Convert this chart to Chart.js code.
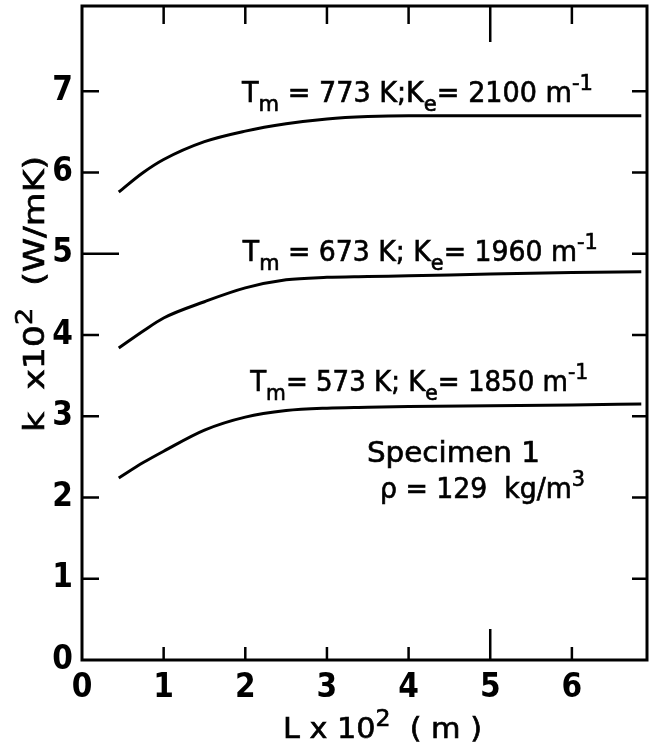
<!DOCTYPE html>
<html>
<head>
<meta charset="utf-8">
<script src="https://cdn.jsdelivr.net/npm/chart.js@4/dist/chart.umd.min.js"></script>
<style>
  html, body { margin: 0; padding: 0; background: #fff; }
  #wrap { width: 650px; height: 746px; }
</style>
</head>
<body>
<div id="wrap"><canvas id="c" width="650" height="746"></canvas></div>
<script>
// ---- data ----
const lengthL = [0.45, 0.75, 1.0, 1.5, 2.0, 2.5, 3.0, 3.5, 4.0, 5.0, 6.0, 6.85];
const k773 = [5.76, 6.00, 6.16, 6.38, 6.51, 6.60, 6.66, 6.69, 6.70, 6.70, 6.70, 6.70];
const k673 = [3.84, 4.05, 4.21, 4.41, 4.58, 4.68, 4.71, 4.72, 4.73, 4.75, 4.77, 4.78];
const k573 = [2.24, 2.43, 2.57, 2.83, 2.99, 3.07, 3.10, 3.11, 3.12, 3.13, 3.14, 3.15];
const xTickValues = [0, 1, 2, 3, 4, 5, 6];
const yTickValues = [0, 1, 2, 3, 4, 5, 6, 7];
const seriesLabels = [
  [{t:'T'},{t:'m',sub:true},{t:' = 773 K;K'},{t:'e',sub:true},{t:'= 2100 m'},{t:'-1',sup:true}],
  [{t:'T'},{t:'m',sub:true},{t:' = 673 K; K'},{t:'e',sub:true},{t:'= 1960 m'},{t:'-1',sup:true}],
  [{t:'T'},{t:'m',sub:true},{t:'= 573 K; K'},{t:'e',sub:true},{t:'= 1850 m'},{t:'-1',sup:true}]
];
const noteLines = [
  [{t:'Specimen 1'}],
  [{t:'\u03C1 = 129  kg/m'},{t:'3',sup:true}]
];
const xTitle = [{t:'L x 10'},{t:'2',sup:true},{t:'  ( m )'}];
const yTitle = [{t:'k  x10'},{t:'2',sup:true},{t:'  (W/mK)'}];

const FONT = "'DejaVu Sans Condensed', 'DejaVu Sans', sans-serif";

function toPts(ys) { return lengthL.map((x, i) => ({x: x, y: ys[i]})); }

function richWidth(ctx, segs, size) {
  let w = 0;
  for (const s of segs) {
    const fs = (s.sub || s.sup) ? size * 0.78 : size;
    ctx.font = `${fs}px ${FONT}`;
    w += ctx.measureText(s.t).width;
  }
  return w;
}
function drawRich(ctx, segs, x, y, size, targetW) {
  const nat = richWidth(ctx, segs, size);
  const sx = targetW ? targetW / nat : 1;
  ctx.save();
  ctx.translate(x, y);
  ctx.scale(sx, 1);
  ctx.fillStyle = '#000';
  ctx.strokeStyle = '#000';
  ctx.lineWidth = 0.6;
  ctx.textBaseline = 'alphabetic';
  ctx.textAlign = 'left';
  let cx = 0;
  for (const s of segs) {
    const fs = (s.sub || s.sup) ? size * 0.78 : size;
    ctx.font = `${fs}px ${FONT}`;
    let dy = 0;
    if (s.sub) dy = size * 0.32;
    if (s.sup) dy = -size * 0.42;
    ctx.fillText(s.t, cx, dy);
    ctx.strokeText(s.t, cx, dy);
    cx += ctx.measureText(s.t).width;
  }
  ctx.restore();
}

const decor = {
  id: 'decor',
  afterDatasetsDraw(chart) {
    const ctx = chart.ctx;
    const a = chart.chartArea;
    const xs = chart.scales.x, ys = chart.scales.y;
    ctx.save();
    ctx.strokeStyle = '#000';
    ctx.lineWidth = 3;
    ctx.lineCap = 'butt';
    ctx.strokeRect(a.left, a.top, a.right - a.left, a.bottom - a.top);
    // inward ticks
    ctx.lineWidth = 2.5;
    ctx.beginPath();
    for (const v of xTickValues) {
      if (v === 0) continue;
      const px = xs.getPixelForValue(v);
      const lb = v === 5 ? 31 : 13;
      const lt = v === 5 ? 36 : 18;
      ctx.moveTo(px, a.bottom); ctx.lineTo(px, a.bottom - lb);
      ctx.moveTo(px, a.top); ctx.lineTo(px, a.top + lt);
    }
    for (const v of yTickValues) {
      if (v === 0) continue;
      const py = ys.getPixelForValue(v);
      const ll = v === 5 ? 37 : 17;
      ctx.moveTo(a.left, py); ctx.lineTo(a.left + ll, py);
      ctx.moveTo(a.right, py); ctx.lineTo(a.right - 15, py);
    }
    ctx.stroke();
    ctx.restore();

    // series labels (anchored in data coordinates)
    const anchors = [[1.96, 6.87, 351], [1.97, 4.91, 355], [2.06, 3.31, 338]];
    seriesLabels.forEach((segs, i) => {
      const [lx, ly, w] = anchors[i];
      drawRich(ctx, segs, xs.getPixelForValue(lx), ys.getPixelForValue(ly), 28, w);
    });
    drawRich(ctx, noteLines[0], xs.getPixelForValue(3.49), ys.getPixelForValue(2.44), 28, 173);
    drawRich(ctx, noteLines[1], xs.getPixelForValue(3.65), ys.getPixelForValue(1.996), 28, 205);

    // axis titles
    drawRich(ctx, xTitle, 283, 738, 29, 199);
    ctx.save();
    ctx.translate(44, 432);
    ctx.rotate(-Math.PI / 2);
    drawRich(ctx, yTitle, 0, 0, 29, 276);
    ctx.restore();
  }
};

new Chart(document.getElementById('c'), {
  type: 'line',
  data: {
    datasets: [
      { data: toPts(k773) },
      { data: toPts(k673) },
      { data: toPts(k573) }
    ].map(d => Object.assign(d, {
      borderColor: '#000', borderWidth: 3, pointRadius: 0,
      cubicInterpolationMode: 'monotone', fill: false
    }))
  },
  options: {
    responsive: false,
    animation: false,
    devicePixelRatio: 1,
    layout: { padding: { top: 6, right: 3, left: 0, bottom: 0 } },
    plugins: { legend: { display: false }, tooltip: { enabled: false } },
    scales: {
      x: {
        type: 'linear', min: 0, max: 6.92,
        grid: { display: false, drawTicks: false, tickLength: 0 }, border: { display: false },
        ticks: {
          stepSize: 1, includeBounds: false, color: '#000', padding: 9,
          font: { family: FONT, size: 33, weight: 'bold' },
          maxRotation: 0
        },
        afterFit(s) { s.height = 86; s.paddingLeft = 0; s.paddingRight = 0; }
      },
      y: {
        type: 'linear', min: 0, max: 8.05,
        grid: { display: false, drawTicks: false, tickLength: 0 }, border: { display: false },
        ticks: {
          stepSize: 1, includeBounds: false, color: '#000', padding: 9,
          font: { family: FONT, size: 33, weight: 'bold' },
          callback: v => (v <= 7 ? v : '')
        },
        afterFit(s) { s.width = 82; s.paddingTop = 0; s.paddingBottom = 0; }
      }
    }
  },
  plugins: [decor]
});
</script>
</body>
</html>
